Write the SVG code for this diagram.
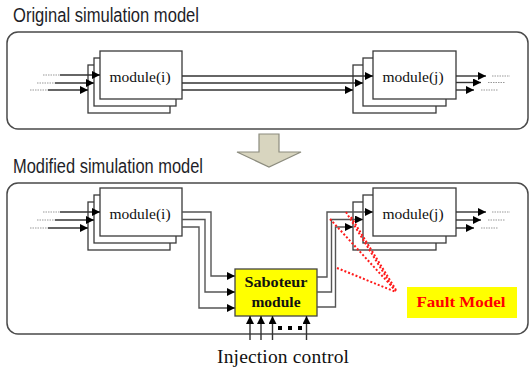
<svg xmlns="http://www.w3.org/2000/svg" width="530" height="373" viewBox="0 0 530 373">
<style>
.title{font-family:"Liberation Sans",Arial,sans-serif;font-size:19.5px;fill:#1e1e28}
.panel{fill:#fff;stroke:#4a4a4a;stroke-width:1.5}
.box{fill:#fff;stroke:#3a3a3a;stroke-width:1.3}
.mt{font-family:"Liberation Serif","Times New Roman",serif;font-size:15.5px;fill:#111;text-anchor:middle}
.w{fill:none;stroke:#333;stroke-width:1.4}
.wg{fill:none;stroke:#555;stroke-width:1.4}
.dot{fill:none;stroke:#999;stroke-width:1.2;stroke-dasharray:1.5,1}
.red{fill:none;stroke:#ff1a1a;stroke-width:2;stroke-dasharray:2,2}
.bold{font-family:"Liberation Serif","Times New Roman",serif;font-weight:bold;text-anchor:middle}
</style>
<defs>
<marker id="ah" markerUnits="userSpaceOnUse" markerWidth="9" markerHeight="9" refX="8" refY="4" orient="auto">
<path d="M0,0 L8,4 L0,8 z" fill="#000"/>
</marker>
</defs>

<text class="title" x="13" y="22" textLength="186" lengthAdjust="spacingAndGlyphs">Original simulation model</text>
<rect class="panel" x="7" y="32" width="521" height="97" rx="11"/>

<text class="title" x="13" y="173" textLength="190" lengthAdjust="spacingAndGlyphs">Modified simulation model</text>
<rect class="panel" x="7" y="183" width="521" height="151" rx="11"/>

<g id="bigArrow">
<path d="M259,134 H279 V152 H301 L269,167 L237,152 H259 Z" fill="#d8d5bf" stroke="#8c8c7e" stroke-width="1.2"/>
</g>

<!-- top nodes -->
<g id="top-module-i">
<rect class="box" x="88" y="65" width="82" height="48"/>
<rect class="box" x="94" y="58" width="82" height="48"/>
<rect class="box" x="100" y="51" width="82" height="48"/>
<text class="mt" x="140" y="82">module(i)</text>
</g>
<g id="top-module-j">
<rect class="box" x="353" y="65" width="83" height="48"/>
<rect class="box" x="363" y="58" width="83" height="48"/>
<rect class="box" x="373" y="51" width="83" height="48"/>
<text class="mt" x="413" y="82">module(j)</text>
</g>

<!-- bottom nodes -->
<g id="bot-module-i">
<rect class="box" x="88" y="202" width="82" height="48"/>
<rect class="box" x="94" y="195" width="82" height="48"/>
<rect class="box" x="100" y="188" width="82" height="48"/>
<text class="mt" x="140" y="219">module(i)</text>
</g>
<g id="bot-module-j">
<rect class="box" x="353" y="202" width="83" height="48"/>
<rect class="box" x="363" y="195" width="83" height="48"/>
<rect class="box" x="373" y="188" width="83" height="48"/>
<text class="mt" x="413" y="219">module(j)</text>
</g>

<g id="saboteur">
<rect x="235" y="269" width="82" height="47" fill="#ffff00" stroke="#444" stroke-width="1.3"/>
<text class="bold" x="276" y="287" font-size="15.5" fill="#111" textLength="63" lengthAdjust="spacingAndGlyphs">Saboteur</text>
<text class="bold" x="276" y="307" font-size="15.5" fill="#111">module</text>
</g>

<g id="faultModel">
<rect x="407" y="287" width="110" height="31" fill="#ffff00"/>
<text class="bold" x="461" y="307" font-size="15.5" fill="#ff0000" textLength="89" lengthAdjust="spacingAndGlyphs">Fault  Model</text>
</g>

<g id="connectors">
<!-- top inputs -->
<path class="dot" d="M43,75 H60 M37,83 H55 M30,90 H48"/>
<path class="w" d="M60,75 H100" marker-end="url(#ah)"/>
<path class="w" d="M55,83 H94" marker-end="url(#ah)"/>
<path class="w" d="M48,90 H88" marker-end="url(#ah)"/>
<!-- top i->j -->
<path class="w" d="M182,76 H373" marker-end="url(#ah)"/>
<path class="w" d="M182,83 H363" marker-end="url(#ah)"/>
<path class="w" d="M182,90 H353" marker-end="url(#ah)"/>
<!-- top outputs -->
<path class="w" d="M456,76 H486" marker-end="url(#ah)"/>
<path class="w" d="M456,82.5 H481" marker-end="url(#ah)"/>
<path class="w" d="M456,90 H474" marker-end="url(#ah)"/>
<path class="dot" d="M492,76 H510 M488,82.5 H505 M481,90 H498"/>

<!-- bottom inputs -->
<path class="dot" d="M43,212 H60 M37,220 H55 M30,228 H48"/>
<path class="w" d="M60,212 H100" marker-end="url(#ah)"/>
<path class="w" d="M55,220 H94" marker-end="url(#ah)"/>
<path class="w" d="M48,228 H88" marker-end="url(#ah)"/>
<!-- module(i) -> saboteur -->
<path class="wg" d="M182,212 H211 V276 H235" marker-end="url(#ah)"/>
<path class="wg" d="M182,219.5 H205 V292 H235" marker-end="url(#ah)"/>
<path class="wg" d="M182,227 H199 V308 H235" marker-end="url(#ah)"/>
<!-- saboteur -> module(j) -->
<path class="wg" d="M317,277 H327 V212 H373" marker-end="url(#ah)"/>
<path class="wg" d="M317,292 H331.5 V219.5 H363" marker-end="url(#ah)"/>
<path class="wg" d="M317,307 H335.5 V227 H353" marker-end="url(#ah)"/>
<!-- bottom outputs -->
<path class="w" d="M456,212 H486" marker-end="url(#ah)"/>
<path class="w" d="M456,220 H481" marker-end="url(#ah)"/>
<path class="w" d="M456,228 H474" marker-end="url(#ah)"/>
<path class="dot" d="M492,212 H510 M488,220 H505 M481,228 H498"/>
<!-- injection control -->
<path class="w" d="M250,340 V316" marker-end="url(#ah)"/>
<path class="w" d="M261,340 V316" marker-end="url(#ah)"/>
<path class="w" d="M272.5,340 V316" marker-end="url(#ah)"/>
<path class="w" d="M306.5,340 V316" marker-end="url(#ah)"/>
<rect x="278" y="326" width="4" height="4" fill="#000"/>
<rect x="288" y="326" width="4" height="4" fill="#000"/>
<rect x="298" y="326" width="4" height="4" fill="#000"/>
<!-- fault model pointers -->
<path class="red" d="M346,212 L393,288"/>
<path class="red" d="M351,217 L396,290"/>
<path class="red" d="M330,219 L396,291"/>
<path class="red" d="M337,268 L396,292"/>
</g>

<text x="217" y="363" font-family="'Liberation Serif','Times New Roman',serif" font-size="19.5" fill="#111" textLength="132" lengthAdjust="spacing">Injection  control</text>
</svg>
